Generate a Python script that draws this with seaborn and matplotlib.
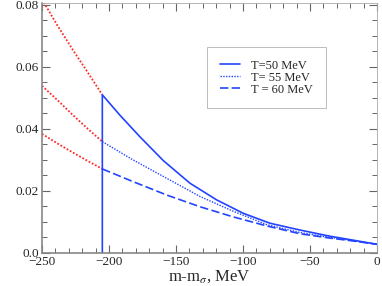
import numpy as np
import pandas as pd
import matplotlib
matplotlib.use("Agg")
import matplotlib.pyplot as plt
import seaborn as sns

# threshold where the solid curve drops to zero
x_cut = -205

# red dotted parts (below threshold)
x_red = [-250, -238, -227, -216, -205]
red_50 = [0.0818, 0.0730, 0.0655, 0.0583, 0.0510]
red_55 = [0.0539, 0.0491, 0.0445, 0.0401, 0.0359]
red_60 = [0.0384, 0.0352, 0.0324, 0.0297, 0.0271]

# blue parts (above threshold), values read per curve
x_50 = [-205, -192, -177, -159.5, -139.6, -119.6, -99.8, -79.9, -57.5, -35, -20, 0]
blue_50 = [0.0510, 0.0445, 0.0375, 0.0298, 0.0225, 0.0171, 0.0128, 0.0096,
           0.0074, 0.0054, 0.0043, 0.0028]
x_55 = [-205, -182, -157, -132, -107, -82, -57.5, -35, -20, 0]
blue_55 = [0.0359, 0.0300, 0.0241, 0.0182, 0.0134, 0.0091, 0.0066, 0.0050,
           0.0041, 0.0028]
x_60 = [-205, -182, -157, -132, -107, -82, -57.5, -35, -20, 0]
blue_60 = [0.0271, 0.0230, 0.0187, 0.0149, 0.0116, 0.0087, 0.0062, 0.0048,
           0.0040, 0.0028]

labels = ["T=50 MeV", "T= 55 MeV", "T = 60 MeV"]
x_ticks = [-250, -200, -150, -100, -50, 0]
y_ticks = [0.0, 0.02, 0.04, 0.06, 0.08]
y_ticklabels = ["0.0", "0.02", "0.04", "0.06", "0.08"]

sns.set_style("ticks")
plt.rcParams['font.family'] = ['Liberation Serif', 'DejaVu Serif']
plt.rcParams['mathtext.fontset'] = 'stix'

blue = "#2244ff"
red = "#ff2a2a"

fig = plt.figure(figsize=(3.82, 2.86), dpi=100)
ax = fig.add_axes([0.110, 0.1154, 0.877, 0.874])

for vals in (red_50, red_55, red_60):
    sns.lineplot(x=x_red, y=vals, ax=ax, color=red, lw=1.3,
                 linestyle=(0, (1, 1)), estimator=None)

# solid curve includes the vertical drop at the threshold
sns.lineplot(x=[x_cut] + x_50, y=[0.0] + blue_50, ax=ax, color=blue, lw=1.2,
             sort=False, estimator=None, label=labels[0])
sns.lineplot(x=x_55, y=blue_55, ax=ax, color=blue, lw=1.0,
             linestyle=(0, (1, 1)), estimator=None, label=labels[1])
sns.lineplot(x=x_60, y=blue_60, ax=ax, color=blue, lw=1.2,
             linestyle=(0, (5, 2)), estimator=None, label=labels[2])

ax.set_xlim(-250, 0)
ax.set_ylim(0, 0.0806)
ax.set_xticks(x_ticks)
ax.set_yticks(y_ticks)
ax.set_yticklabels(y_ticklabels)
ax.set_xticks(np.arange(-250, 1, 10), minor=True)
ax.set_yticks(np.arange(0, 0.0806, 0.005), minor=True)
ax.tick_params(which='both', direction='in', top=True, right=True,
               labeltop=False, labelright=False, color='#666666',
               labelsize=9.5, pad=2)
ax.tick_params(which='major', length=5.5, width=0.8)
ax.tick_params(which='minor', length=3.5, width=0.7)
for side in ('top', 'right'):
    ax.spines[side].set_visible(True)
    ax.spines[side].set_color('#aaaaaa')
    ax.spines[side].set_linewidth(0.6)
for side in ('left', 'bottom'):
    ax.spines[side].set_color('#888888')
    ax.spines[side].set_linewidth(1.2)

ax.set_xlabel("m-m$_\\sigma$, MeV", fontsize=12, labelpad=0)
ax.set_ylabel("")

leg = ax.legend(loc='upper left', bbox_to_anchor=(0.4925, 0.824),
                borderaxespad=0, fontsize=9, frameon=True, fancybox=False,
                handlelength=1.6, handletextpad=0.95, labelspacing=0.0,
                borderpad=1.0, edgecolor='#aaaaaa')
leg.get_frame().set_linewidth(0.7)

fig.savefig("out.png", dpi=100)
